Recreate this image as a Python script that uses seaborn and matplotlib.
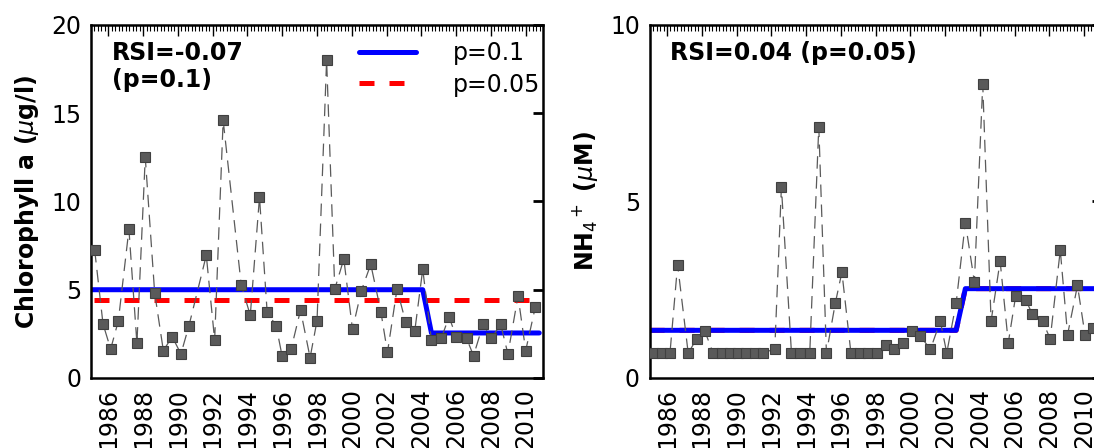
import numpy as np
import matplotlib
matplotlib.use("Agg")
import matplotlib.pyplot as plt
import seaborn as sns
from matplotlib.ticker import MultipleLocator
from matplotlib.lines import Line2D

# sampling dates (decimal years) and values
chl_years = [1985.21, 1985.69, 1986.13, 1986.57, 1987.18, 1987.64, 1988.12, 1988.66,
             1989.16, 1989.67, 1990.17, 1990.63, 1991.63, 1992.11, 1992.6, 1993.64,
             1994.16, 1994.69, 1995.13, 1995.65, 1995.99, 1996.51, 1997.05, 1997.6,
             1998.0, 1998.55, 1999.02, 1999.54, 2000.04, 2000.55, 2001.09, 2001.67,
             2002.05, 2002.6, 2003.1, 2003.62, 2004.08, 2004.58, 2005.15, 2005.59,
             2006.0, 2006.6, 2007.0, 2007.55, 2008.03, 2008.56, 2008.98, 2009.56,
             2010.0, 2010.56]
chl_vals = [7.25, 3.06, 1.64, 3.23, 8.42, 1.96, 12.5, 4.83, 1.55, 2.34, 1.36, 2.95,
            6.95, 2.15, 14.6, 5.27, 3.55, 10.24, 3.74, 2.95, 1.25, 1.64, 3.85, 1.15,
            3.25, 18.0, 5.04, 6.74, 2.76, 4.95, 6.44, 3.76, 1.45, 5.04, 3.15, 2.66,
            6.16, 2.15, 2.25, 3.47, 2.34, 2.25, 1.26, 3.04, 2.25, 3.04, 1.36, 4.65,
            1.55, 4.04]

nh4_years = [1985.21, 1985.69, 1986.17, 1986.61, 1987.22, 1987.70, 1988.18, 1988.66,
             1989.14, 1989.61, 1990.1, 1990.57, 1991.05, 1991.53, 1992.2, 1992.58,
             1993.16, 1993.64, 1994.21, 1994.73, 1995.17, 1995.68, 1996.06, 1996.58,
             1997.11, 1997.58, 1998.1, 1998.6, 1999.07, 1999.55, 2000.07, 2000.57,
             2001.15, 2001.72, 2002.09, 2002.63, 2003.16, 2003.68, 2004.16, 2004.64,
             2005.16, 2005.63, 2006.05, 2006.63, 2007.0, 2007.6, 2008.04, 2008.62,
             2009.04, 2009.61, 2010.04, 2010.48]
nh4_vals = [0.7, 0.7, 0.7, 3.21, 0.7, 1.11, 1.32, 0.7, 0.7, 0.7, 0.7, 0.7, 0.7, 0.7,
            0.83, 5.41, 0.7, 0.7, 0.7, 7.12, 0.7, 2.12, 3.0, 0.7, 0.7, 0.7, 0.7, 0.92,
            0.81, 1.0, 1.33, 1.19, 0.81, 1.61, 0.71, 2.12, 4.40, 2.72, 8.32, 1.61,
            3.31, 1.0, 2.31, 2.22, 1.82, 1.61, 1.11, 3.62, 1.23, 2.62, 1.23, 1.41]

# regime means (STARS shifts)
chl_p10_x = [1985.0, 2004.08, 2004.58, 2010.78]
chl_p10_y = [5.0, 5.0, 2.55, 2.55]
chl_p05_x = [1985.2, 2010.75]
chl_p05_y = [4.4, 4.4]

nh4_p10_x = [1985.0, 2002.63, 2003.16, 2011.0]
nh4_p10_y = [1.35, 1.35, 2.53, 2.53]
nh4_p05_x = nh4_p10_x
nh4_p05_y = nh4_p10_y

year_ticks = list(range(1986, 2011, 2))

sns.set_style("white")
plt.rcParams['font.family'] = ['DejaVu Sans']
plt.rcParams['mathtext.fontset'] = 'dejavusans'
for k in ['text.color', 'axes.labelcolor', 'xtick.color', 'ytick.color']:
    plt.rcParams[k] = 'black'

fig = plt.figure(figsize=(10.94, 4.48), dpi=100)
ax1 = fig.add_axes([0.0832, 0.1563, 0.4132, 0.788])
ax2 = fig.add_axes([0.5938, 0.1563, 0.4132, 0.788])

FS = 17


def panel(ax, years, vals, p10x, p10y, p05x, p05y, ymax, ylabel, note, legend=True):
    sns.lineplot(x=p05x, y=p05y, ax=ax, color='#ff0000', lw=3.6, estimator=None)
    ax.lines[-1].set_dashes((3, 3))
    sns.lineplot(x=p10x, y=p10y, ax=ax, color='#0000ff', lw=3.6, estimator=None)
    sns.lineplot(x=years, y=vals, ax=ax, color='#5a5a5a', lw=0.9, estimator=None,
                 marker='s', markersize=7.8, markerfacecolor='#5a5a5a',
                 markeredgecolor='#404040', markeredgewidth=0.8, zorder=3)
    ax.lines[-1].set_dashes((10, 6))

    ax.set_xlim(1985, 2011)
    ax.set_ylim(0, ymax)
    ax.set_xticks(year_ticks)
    ax.set_xticklabels([str(y) for y in year_ticks], rotation=90, fontsize=FS)
    ax.xaxis.set_minor_locator(MultipleLocator(0.2))
    ax.set_yticks(np.arange(0, ymax + 1, 5))
    ax.tick_params(axis='y', labelsize=FS)
    ax.tick_params(axis='both', which='both', direction='in', top=True, right=True,
                   pad=7, colors='black')
    ax.tick_params(axis='x', which='major', length=8, width=1)
    ax.tick_params(axis='x', which='minor', length=4, width=0.8)
    ax.tick_params(axis='y', which='major', length=7, width=2)
    for sp in ax.spines.values():
        sp.set_linewidth(1.8)
        sp.set_color('black')
    ax.set_xlabel('')
    ax.set_ylabel(ylabel, fontsize=FS, fontweight='bold')
    ax.yaxis.set_label_coords(-0.11, 0.5)
    ax.text(0.046, 0.955, note, transform=ax.transAxes, fontsize=FS,
            fontweight='bold', va='top', ha='left', linespacing=1.15, color='black')

    if legend:
        handles = [Line2D([], [], color='#0000ff', lw=3.6),
                   Line2D([], [], color='#ff0000', lw=3.6, dashes=(3, 3))]
        ax.legend(handles, ['p=0.1', 'p=0.05'], loc='upper right',
                  bbox_to_anchor=(1.03, 1.0), frameon=False, fontsize=FS,
                  handlelength=2.4, handletextpad=1.55, labelspacing=0.3,
                  borderaxespad=0.3)


panel(ax1, chl_years, chl_vals, chl_p10_x, chl_p10_y, chl_p05_x, chl_p05_y, 20,
      r'Chlorophyll a ($\mu$g/l)', 'RSI=-0.07\n(p=0.1)')
panel(ax2, nh4_years, nh4_vals, nh4_p10_x, nh4_p10_y, nh4_p05_x, nh4_p05_y, 10,
      r'NH$_4$$^+$ ($\mu$M)', 'RSI=0.04 (p=0.05)', legend=False)

fig.savefig('out.png', dpi=100)
